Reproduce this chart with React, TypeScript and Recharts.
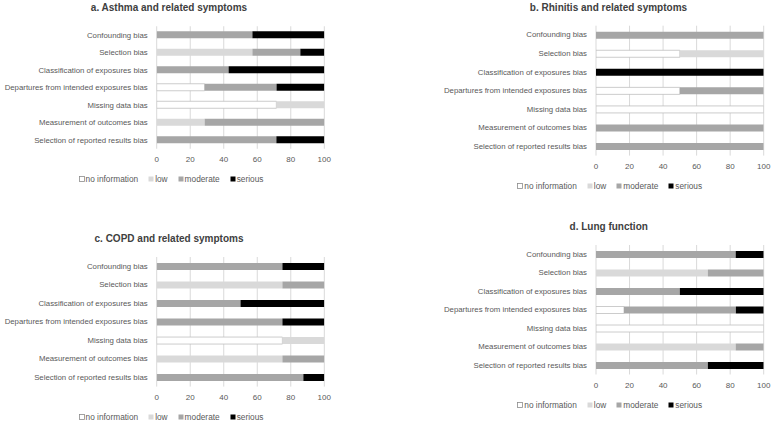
import React from "react";
import { BarChart, Bar, XAxis, YAxis, CartesianGrid } from "recharts";

const categories = [
  "Confounding bias",
  "Selection bias",
  "Classification of exposures bias",
  "Departures from intended exposures bias",
  "Missing data bias",
  "Measurement of outcomes bias",
  "Selection of reported results bias",
];
const xTicks = [0, 20, 40, 60, 80, 100];
const seriesNames = ["no information", "low", "moderate", "serious"];

// a. Asthma
const noInfoA = [0, 0, 0, 28.6, 71.4, 0, 0];
const lowA = [0, 57.1, 0, 0, 28.6, 28.6, 0];
const moderateA = [57.1, 28.6, 42.9, 42.9, 0, 71.4, 71.4];
const seriousA = [42.9, 14.3, 57.1, 28.6, 0, 0, 28.6];
// b. Rhinitis
const noInfoB = [0, 50, 0, 50, 100, 0, 0];
const lowB = [0, 50, 0, 0, 0, 0, 0];
const moderateB = [100, 0, 0, 50, 0, 100, 100];
const seriousB = [0, 0, 100, 0, 0, 0, 0];
// c. COPD
const noInfoC = [0, 0, 0, 0, 75, 0, 0];
const lowC = [0, 75, 0, 0, 25, 75, 0];
const moderateC = [75, 25, 50, 75, 0, 25, 87.5];
const seriousC = [25, 0, 50, 25, 0, 0, 12.5];
// d. Lung function
const noInfoD = [0, 0, 0, 16.7, 100, 0, 0];
const lowD = [0, 66.7, 0, 0, 0, 83.3, 0];
const moderateD = [83.3, 33.3, 50, 66.7, 0, 16.7, 66.7];
const seriousD = [16.7, 0, 50, 16.7, 0, 0, 33.3];

const FONT = "'Liberation Sans', Arial, sans-serif";
const TEXT = "#595959";
const COLORS = {
  noinfo: "#ffffff",
  low: "#d9d9d9",
  moderate: "#a6a6a6",
  serious: "#000000",
};

function build(n: number[], l: number[], m: number[], s: number[]) {
  return categories.map((name, i) => ({
    name,
    noinfo: n[i],
    low: l[i],
    moderate: m[i],
    serious: s[i],
  }));
}

type PanelProps = {
  title: string;
  data: ReturnType<typeof build>;
  left: number;
  top: number;
  plotLeft: number;
  plotRight: number;
  bandTop: number;
  bandBottom: number;
  titleX: number;
  titleY: number;
  legendX: number;
  legendY: number;
};

const W = 386;
const H = 212;
const XH = 30;

function CategoryTick(props: any) {
  const { x, y, payload } = props;
  return (
    <text
      x={x}
      y={y}
      textAnchor="end"
      dominantBaseline="central"
      fontSize={7.8}
      fill={TEXT}
      fontFamily={FONT}
    >
      {payload.value}
    </text>
  );
}

function LegendBox({ x, y }: { x: number; y: number }) {
  const items = [
    { name: seriesNames[0], fill: COLORS.noinfo, stroke: "#8c8c8c" },
    { name: seriesNames[1], fill: COLORS.low, stroke: "none" },
    { name: seriesNames[2], fill: COLORS.moderate, stroke: "none" },
    { name: seriesNames[3], fill: COLORS.serious, stroke: "none" },
  ];
  return (
    <div
      style={{
        position: "absolute",
        left: x - 150,
        width: 300,
        top: y - 6,
        height: 12,
        display: "flex",
        justifyContent: "center",
        alignItems: "center",
        gap: 10,
        fontFamily: FONT,
        fontSize: 8.3,
        color: TEXT,
        whiteSpace: "nowrap",
      }}
    >
      {items.map((it) => (
        <span key={it.name} style={{ display: "flex", alignItems: "center" }}>
          <svg width={6} height={6} style={{ marginRight: 1 }}>
            <rect
              x={0.5}
              y={0.5}
              width={5}
              height={5}
              fill={it.fill}
              stroke={it.stroke}
              strokeWidth={it.stroke === "none" ? 0 : 0.8}
            />
          </svg>
          {it.name}
        </span>
      ))}
    </div>
  );
}

function Panel(p: PanelProps) {
  const margin = {
    top: p.bandTop,
    bottom: H - p.bandBottom - XH,
    left: 0,
    right: W - p.plotRight,
  };
  return (
    <>
      <div
        style={{
          position: "absolute",
          left: p.titleX - 150,
          width: 300,
          top: p.titleY - 7,
          height: 14,
          lineHeight: "14px",
          textAlign: "center",
          fontFamily: FONT,
          fontWeight: "bold",
          fontSize: 10,
          color: "#404040",
          whiteSpace: "nowrap",
        }}
      >
        {p.title}
      </div>
      <div style={{ position: "absolute", left: p.left, top: p.top }}>
        <BarChart
          width={W}
          height={H}
          data={p.data}
          layout="vertical"
          margin={margin}
          barSize={7}
        >
          <CartesianGrid horizontal={false} stroke="#d9d9d9" strokeWidth={1} />
          <XAxis
            type="number"
            domain={[0, 100]}
            ticks={xTicks}
            allowDataOverflow
            axisLine={false}
            tickLine={false}
            height={XH}
            interval={0}
            tick={{ fontSize: 8, fill: TEXT, fontFamily: FONT }}
          />
          <YAxis
            type="category"
            dataKey="name"
            width={p.plotLeft}
            axisLine={false}
            tickLine={false}
            interval={0}
            tickMargin={3}
            tick={<CategoryTick />}
          />
          <Bar dataKey="noinfo" stackId="s" fill={COLORS.noinfo} stroke="#bfbfbf" strokeWidth={0.8} isAnimationActive={false} />
          <Bar dataKey="low" stackId="s" fill={COLORS.low} isAnimationActive={false} />
          <Bar dataKey="moderate" stackId="s" fill={COLORS.moderate} isAnimationActive={false} />
          <Bar dataKey="serious" stackId="s" fill={COLORS.serious} isAnimationActive={false} />
        </BarChart>
      </div>
      <LegendBox x={p.legendX} y={p.legendY} />
    </>
  );
}

export default function App() {
  return (
    <div
      style={{
        position: "absolute",
        left: 0,
        top: 0,
        width: 772,
        height: 425,
        background: "#fff",
        overflow: "hidden",
      }}
    >
      <Panel
        title="a. Asthma and related symptoms"
        data={build(noInfoA, lowA, moderateA, seriousA)}
        left={0}
        top={0}
        plotLeft={156.7}
        plotRight={324.3}
        bandTop={26.25}
        bandBottom={148.75}
        titleX={169}
        titleY={8.3}
        legendX={171}
        legendY={179}
      />
      <Panel
        title="b. Rhinitis and related symptoms"
        data={build(noInfoB, lowB, moderateB, seriousB)}
        left={386}
        top={0}
        plotLeft={210}
        plotRight={377.7}
        bandTop={25.7}
        bandBottom={155.6}
        titleX={608.5}
        titleY={8.3}
        legendX={609.7}
        legendY={185.7}
      />
      <Panel
        title="c. COPD and related symptoms"
        data={build(noInfoC, lowC, moderateC, seriousC)}
        left={0}
        top={212}
        plotLeft={156.7}
        plotRight={324.3}
        bandTop={45}
        bandBottom={174.6}
        titleX={169}
        titleY={238.7}
        legendX={171}
        legendY={416.7}
      />
      <Panel
        title="d. Lung function"
        data={build(noInfoD, lowD, moderateD, seriousD)}
        left={386}
        top={212}
        plotLeft={210}
        plotRight={377.7}
        bandTop={33}
        bandBottom={162.5}
        titleX={608.7}
        titleY={227}
        legendX={609.7}
        legendY={405.3}
      />
    </div>
  );
}
